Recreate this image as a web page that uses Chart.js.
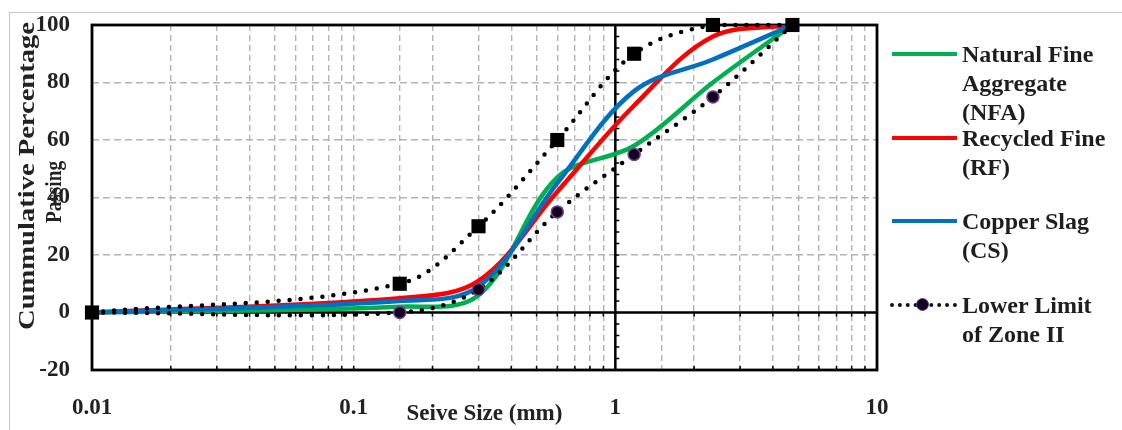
<!DOCTYPE html>
<html>
<head>
<meta charset="utf-8">
<script src="https://cdn.jsdelivr.net/npm/chart.js@4"></script>
<style>
html,body{margin:0;padding:0;background:#fff;}
#wrap{position:relative;width:1122px;height:430px;overflow:hidden;background:#fff;}
#outer{position:absolute;left:9px;top:12px;width:1200px;height:500px;border-left:1.5px solid #c4c4c4;border-top:1.5px solid #c4c4c4;}
canvas{position:absolute;left:0;top:0;}
.legtxt{position:absolute;left:962px;font:bold 24px 'Liberation Serif','Times New Roman',serif;line-height:29px;color:#1e1e1e;white-space:nowrap;}
.legln{position:absolute;left:892px;width:65px;height:4px;}
.legdot{position:absolute;left:890px;width:67px;height:0;border-top:4px dotted #111;}
.legcirc{position:absolute;left:916px;width:11px;height:11px;border-radius:50%;background:#14001e;border:1.5px solid #6b4391;}
</style>
</head>
<body>
<div id="wrap">
  <div id="outer"></div>
  <canvas id="c" width="1122" height="430"></canvas>
</div>
<script>
// ---- data ----
const sieveSizes   = [0.01, 0.15, 0.3, 0.6, 1.18, 2.36, 4.75];
const nfa          = [0, 2, 6, 47, 58, 80, 100];
const rf           = [0, 5, 11, 42, 72, 96, 100];
const cs           = [0, 4, 9, 45, 77, 88, 100];
const upperLimit   = [0, 10, 30, 60, 90, 100, 100];
const lowerLimit   = [0, 0, 8, 35, 55, 75, 100];
const xTickLabels  = [0.01, 0.1, 1, 10];
const yTickValues  = [-20, 0, 20, 40, 60, 80, 100];
const seriesNames  = ['Natural Fine Aggregate (NFA)', 'Recycled Fine (RF)', 'Copper Slag (CS)', 'Lower Limit of Zone II', 'Upper Limit of Zone II'];
const legendLines  = [['Natural Fine','Aggregate','(NFA)'], ['Recycled Fine','(RF)'], ['Copper Slag','(CS)'], ['Lower Limit','of Zone II']];
const seriesColors = ['#00B050', '#FF0000', '#0070C0', '#000000'];
const xTitle = 'Seive Size (mm)';
const yTitle = ['Cummulative Percentage', 'Passing'];

const pts = arr => sieveSizes.map((s, i) => ({x: s, y: arr[i]}));
const FONT = "'Liberation Serif', 'Times New Roman', serif";

function isLabelled(v) {
  return xTickLabels.find(t => Math.abs(Math.log10(v) - Math.log10(t)) < 1e-6);
}

const framePlugin = {
  id: 'frame',
  beforeDatasetsDraw(chart) {
    const {ctx, chartArea: a, scales: {x, y}} = chart;
    ctx.save();
    ctx.strokeStyle = '#000';
    ctx.lineWidth = 1.5;
    const x1 = x.getPixelForValue(1), y0 = y.getPixelForValue(0);
    ctx.beginPath();
    for (let v = -20; v <= 100; v += 4) {
      const py = y.getPixelForValue(v);
      ctx.moveTo(x1, py); ctx.lineTo(x1 + 4, py);
    }
    for (const d of [0.01, 0.1, 1]) {
      for (let m = 1; m <= 10; m++) {
        const px = x.getPixelForValue(m * d);
        ctx.moveTo(px, y0); ctx.lineTo(px, y0 + 4);
        ctx.moveTo(px, a.bottom); ctx.lineTo(px, a.bottom - 4);
      }
    }
    ctx.stroke();
    ctx.lineWidth = 2.5;
    ctx.beginPath();
    ctx.moveTo(x1, a.top); ctx.lineTo(x1, a.bottom);
    ctx.moveTo(a.left, y0); ctx.lineTo(a.right, y0);
    ctx.stroke();
    ctx.lineWidth = 2.8;
    ctx.strokeRect(a.left, a.top, a.right - a.left, a.bottom - a.top);
    ctx.restore();
  },
  afterDraw(chart) {
    const ctx = chart.ctx;
    ctx.save();
    ctx.fillStyle = '#222';
    ctx.font = 'bold 24px ' + FONT;
    ctx.textAlign = 'center';
    ctx.textBaseline = 'middle';
    const place = [[28, 176, 308], [55, 192, 62]];
    yTitle.forEach((t, i) => {
      const [px, py, len] = place[i];
      ctx.save();
      ctx.translate(px, py);
      ctx.rotate(-Math.PI / 2);
      const w = ctx.measureText(t).width;
      ctx.scale(len / w, 1);
      ctx.fillText(t, 0, 0);
      ctx.restore();
    });
    ctx.restore();
  }
};

const common = {pointRadius: 0, borderWidth: 4.5, tension: 0.35, fill: false};
const chart = new Chart(document.getElementById('c'), {
  type: 'line',
  data: {
    datasets: [
      {label: seriesNames[4], data: pts(upperLimit), borderColor: '#000', borderWidth: 4.5, borderDash: [0, 11],
       borderCapStyle: 'round', tension: 0.35, pointStyle: 'rect', pointRadius: 10, pointBackgroundColor: '#000',
       pointBorderColor: '#000', pointBorderWidth: 0, clip: false, order: 0},
      {label: seriesNames[3], data: pts(lowerLimit), borderColor: '#000', borderWidth: 4.5, borderDash: [0, 11],
       borderCapStyle: 'round', tension: 0.35, pointStyle: 'circle', pointRadius: 6, pointBackgroundColor: '#14001e',
       pointBorderColor: '#6b4391', pointBorderWidth: 1.5, clip: false, order: 1},
      {label: seriesNames[2], data: pts(cs), borderColor: seriesColors[2], ...common, order: 2},
      {label: seriesNames[1], data: pts(rf), borderColor: seriesColors[1], ...common, order: 3},
      {label: seriesNames[0], data: pts(nfa), borderColor: seriesColors[0], ...common, order: 4}
    ]
  },
  options: {
    responsive: false,
    animation: false,
    devicePixelRatio: 1,
    layout: {padding: {left: 0, top: 25, right: 245, bottom: 0}},
    plugins: {legend: {display: false}, tooltip: {enabled: false}},
    scales: {
      x: {
        type: 'logarithmic', min: 0.01, max: 10,
        afterFit: s => { s.height = 60; s.paddingLeft = 0; s.paddingRight = 0; },
        grid: {drawTicks: false, lineWidth: 1.4,
               color: c => (c.tick && (Math.abs(c.tick.value - 1) < 1e-9 || c.tick.value <= 0.01 + 1e-12 || c.tick.value >= 10 - 1e-9)) ? 'rgba(0,0,0,0)' : '#b4b4b4'},
        border: {display: false, dash: [6, 4]},
        ticks: {autoSkip: false, maxRotation: 0, padding: 24, color: '#222',
                font: {family: FONT, size: 23, weight: 'bold'},
                callback: v => { const t = isLabelled(v); return t !== undefined ? String(t) : ''; }},
        title: {display: true, text: xTitle, color: '#222', padding: {top: 0, bottom: 2},
                font: {family: FONT, size: 23, weight: 'bold'}}
      },
      y: {
        type: 'linear', min: -20, max: 100,
        afterFit: s => { s.width = 92; s.paddingTop = 0; s.paddingBottom = 0; },
        afterBuildTicks: s => { s.ticks = yTickValues.map(v => ({value: v})); },
        grid: {drawTicks: false, lineWidth: 1.4,
               color: c => (c.tick && (c.tick.value === 0 || c.tick.value === 100 || c.tick.value === -20)) ? 'rgba(0,0,0,0)' : '#b4b4b4'},
        border: {display: false, dash: [7, 4]},
        ticks: {padding: 22, color: '#222', font: {family: FONT, size: 23, weight: 'bold'}}
      }
    }
  },
  plugins: [framePlugin]
});

// ---- HTML legend ----
const wrap = document.getElementById('wrap');
const legTop = [54, 138, 221, 305];
legendLines.forEach((lines, i) => {
  const cy = legTop[i];
  if (i < 3) {
    const ln = document.createElement('div');
    ln.className = 'legln';
    ln.style.top = (cy - 2) + 'px';
    ln.style.background = seriesColors[i];
    wrap.appendChild(ln);
  } else {
    const d = document.createElement('div');
    d.className = 'legdot';
    d.style.top = (cy - 2) + 'px';
    wrap.appendChild(d);
    const c = document.createElement('div');
    c.className = 'legcirc';
    c.style.top = (cy - 7) + 'px';
    wrap.appendChild(c);
  }
  const t = document.createElement('div');
  t.className = 'legtxt';
  t.style.top = (cy - 14.5) + 'px';
  t.innerHTML = lines.join('<br>');
  wrap.appendChild(t);
});
</script>
</body>
</html>
